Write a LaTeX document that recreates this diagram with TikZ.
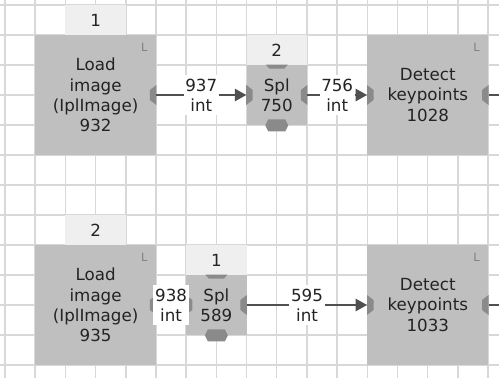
\documentclass[tikz,border=0pt]{standalone}
\usepackage{fontspec}
\setmainfont{DejaVu Sans}
\usepackage{tikz}
\usetikzlibrary{arrows.meta,calc}
\definecolor{boxgray}{RGB}{191,191,191}
\definecolor{hdrgray}{RGB}{239,239,239}
\definecolor{portgray}{RGB}{138,138,138}
\definecolor{wiregray}{RGB}{80,80,80}
\definecolor{gridgray}{RGB}{216,216,216}
\definecolor{txtgray}{RGB}{35,35,35}
\tikzset{
  blockbox/.style={fill=boxgray, inner sep=0pt,
    minimum width=2.416cm, minimum height=2.4cm,
    align=center, text=txtgray, font=\fontsize{9.5}{11.6}\selectfont},
  splbox/.style={fill=boxgray, inner sep=0pt,
    minimum width=1.208cm, minimum height=1.2cm,
    align=center, text=txtgray, font=\fontsize{9.5}{11.6}\selectfont},
  hdrbox/.style={fill=hdrgray, inner sep=0pt,
    minimum width=1.208cm, minimum height=0.6cm,
    text=txtgray, font=\fontsize{9.5}{11.6}\selectfont},
  lmark/.style={text=gray, inner sep=0pt, font=\fontsize{6.5}{7}\selectfont},
  lbl/.style={fill=white, inner xsep=1pt, inner ysep=2pt,
    align=center, text=txtgray, font=\fontsize{9.5}{11.6}\selectfont},
  gridline/.style={draw=gridgray, line width=0.8pt},
  wire/.style={draw=wiregray, line width=1.1pt,
    -{Triangle[length=6.5pt,width=7pt]}},
  wireout/.style={draw=wiregray, line width=1.1pt},
  sideport/.pic={\fill[portgray] (0,-0.2cm) -- (0.13cm,-0.1cm)
    -- (0.13cm,0.1cm) -- (0,0.2cm) -- cycle;},
  topport/.pic={\fill[portgray] (-0.22cm,0) -- (0.22cm,0)
    -- (0.15cm,-0.08cm) -- (-0.15cm,-0.08cm) -- cycle;},
  botport/.pic={\fill[portgray] (-0.17cm,0.12cm) -- (0.17cm,0.12cm)
    -- (0.23cm,0) -- (0.17cm,-0.12cm) -- (-0.17cm,-0.12cm)
    -- (-0.23cm,0) -- cycle;},
}
\begin{document}
\begin{tikzpicture}[x=0.604cm, y=-0.6cm]
  \useasboundingbox[fill=white] (-0.1656,-0.1667) rectangle (16.358,12.433);
  % grid
  \foreach \i in {0,...,16}
    \draw[gridline] (\i,-0.1667) -- (\i,12.433);
  \foreach \j in {0,...,12}
    \draw[gridline] (-0.1656,\j) -- (16.358,\j);

  % top row
  \node[hdrbox] (h1) at (3,0.5) {1};
  \node[blockbox] (load1) at (3,3) {Load\\image\\(IplImage)\\932};
  \node[hdrbox] (h2) at (9,1.5) {2};
  \node[splbox] (spl1) at (9,3) {Spl\\750};
  \node[blockbox] (det1) at (14,3) {Detect\\keypoints\\1028};

  % bottom row
  \node[hdrbox] (h3) at (3,7.5) {2};
  \node[blockbox] (load2) at (3,10) {Load\\image\\(IplImage)\\935};
  \node[hdrbox] (h4) at (7,8.5) {1};
  \node[splbox] (spl2) at (7,10) {Spl\\589};
  \node[blockbox] (det2) at (14,10) {Detect\\keypoints\\1033};

  % L marks
  \node[lmark] (lm1) at ($(load1.north east)+(-0.24cm,-0.26cm)$) {L};
  \node[lmark] (lm2) at ($(det1.north east)+(-0.24cm,-0.26cm)$) {L};
  \node[lmark] (lm3) at ($(load2.north east)+(-0.24cm,-0.26cm)$) {L};
  \node[lmark] (lm4) at ($(det2.north east)+(-0.24cm,-0.26cm)$) {L};

  % ports
  \pic[rotate=180] at (load1.east) {sideport};
  \pic at (spl1.west) {sideport};
  \pic[rotate=180] at (spl1.east) {sideport};
  \pic at (spl1.north) {topport};
  \pic at (spl1.south) {botport};
  \pic at (det1.west) {sideport};
  \pic[rotate=180] at (det1.east) {sideport};
  \pic[rotate=180] at (load2.east) {sideport};
  \pic at (spl2.west) {sideport};
  \pic[rotate=180] at (spl2.east) {sideport};
  \pic at (spl2.north) {topport};
  \pic at (spl2.south) {botport};
  \pic at (det2.west) {sideport};
  \pic[rotate=180] at (det2.east) {sideport};

  % connectors
  \coordinate (out1) at (16.358,3);
  \coordinate (out2) at (16.358,10);
  \draw[wire] (load1.east) -- node[lbl] (c1) {937\\int} (spl1.west);
  \draw[wire] (spl1.east) -- node[lbl] (c2) {756\\int} (det1.west);
  \draw[wireout] (det1.east) -- (out1);
  \draw[wire] (load2.east) -- node[lbl] (c3) {938\\int} (spl2.west);
  \draw[wire] (spl2.east) -- node[lbl] (c4) {595\\int} (det2.west);
  \draw[wireout] (det2.east) -- (out2);
\end{tikzpicture}
\end{document}
